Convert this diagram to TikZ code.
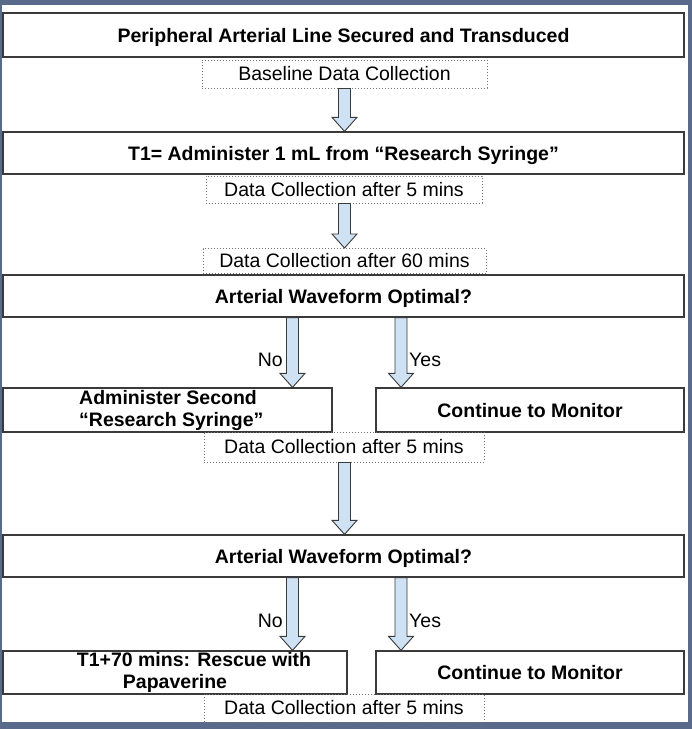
\documentclass[tikz,border=0pt]{standalone}
\usepackage{fontspec}
\setmainfont{Liberation Sans}
\usetikzlibrary{calc}
\definecolor{framecol}{HTML}{5A6A8B}
\definecolor{arrowfill}{HTML}{CFE2F3}
\definecolor{boxline}{HTML}{3A3A3A}
\tikzset{
  solidbox/.style={draw=boxline, line width=1.3pt, fill=white, inner sep=0pt, text height=16pt, text depth=2pt, font=\fontsize{19.5}{22}\selectfont\bfseries},
  dotbox/.style={draw=black!55, line width=1pt, dash pattern=on 1pt off 2pt, inner sep=0pt, font=\fontsize{19.5}{22}\selectfont},
  lbl/.style={font=\fontsize{19.5}{22}\selectfont, inner sep=0pt},
  btxt/.style={font=\fontsize{19.5}{22}\selectfont\bfseries, inner sep=0pt},
  fat/.style={draw=boxline, line width=0.9pt, fill=arrowfill, line join=miter,
    to path={let \p1=(\tikztostart), \p2=(\tikztotarget) in
      (\x1-6pt,\y1) -- (\x1-6pt,\y2+14pt) -- (\x1-12.5pt,\y2+14pt) -- (\x1,\y2)
      -- (\x1+12.5pt,\y2+14pt) -- (\x1+6pt,\y2+14pt) -- (\x1+6pt,\y1) -- cycle}}
}
\begin{document}
\begin{tikzpicture}[x=1pt,y=-1pt]
\useasboundingbox (0,0) rectangle (692,729);
\fill[framecol] (0,0) rectangle (692,729);
\fill[white] (2,5) rectangle (688,722);

% solid boxes
\node[solidbox, minimum width=681pt, minimum height=44pt] (b1) at (343.5,35) {Peripheral Arterial Line Secured and Transduced};
\node[solidbox, minimum width=681pt, minimum height=42pt] (b2) at (343.5,153) {T1= Administer 1 mL from “Research Syringe”};
\node[solidbox, minimum width=681pt, minimum height=42pt] (b3) at (343.5,296) {Arterial Waveform Optimal?};
\node[solidbox, minimum width=329pt, minimum height=44pt] (b4l) at (167.5,410) {};
\node[btxt, align=left, anchor=west] (t4l) at (79,410) {Administer Second\\“Research Syringe”};
\node[solidbox, minimum width=308pt, minimum height=44pt] (b4r) at (530,410) {Continue to Monitor};
\node[solidbox, minimum width=681pt, minimum height=42pt] (b5) at (343.5,556) {Arterial Waveform Optimal?};
\node[solidbox, minimum width=344pt, minimum height=43pt] (b6l) at (175,672.5) {};
\node[btxt, align=center] (t6l) at (194,672.5) {T1+70 mins: Rescue with\\Papaverine\hspace*{38pt}};
\node[solidbox, minimum width=308pt, minimum height=43pt] (b6r) at (530,672.5) {Continue to Monitor};

% dotted boxes
\node[dotbox, minimum width=285pt, minimum height=28pt] (d1) at (344.5,74) {Baseline Data Collection};
\node[dotbox, minimum width=276pt, minimum height=27pt] (d2) at (344,189.5) {Data Collection after 5 mins};
\node[dotbox, minimum width=283pt, minimum height=25pt] (d3) at (344.5,261) {Data Collection after 60 mins};
\node[dotbox, minimum width=280pt, minimum height=30pt] (d4) at (344,447) {Data Collection after 5 mins};
\node[dotbox, minimum width=280pt, minimum height=28pt] (d5) at (344,708) {Data Collection after 5 mins};

% arrow columns
\coordinate (mx) at (344.5,0);
\coordinate (nx) at (292.5,0);
\coordinate (yx) at (401,0);

\path[fat] (d1.south -| mx) to (b2.north -| mx);
\path[fat] (d2.south -| mx) to (d3.north -| mx);
\path[fat] (b3.south -| nx) to (b4l.north -| nx);
\path[fat] (b3.south -| yx) to (b4r.north -| yx);
\path[fat] (d4.south -| mx) to (b5.north -| mx);
\path[fat] (b5.south -| nx) to (b6l.north -| nx);
\path[fat] (b5.south -| yx) to (b6r.north -| yx);

\node[lbl, anchor=east] (no1) at (283,360) {No};
\node[lbl, anchor=west] (yes1) at (409,360) {Yes};
\node[lbl, anchor=east] (no2) at (283,621) {No};
\node[lbl, anchor=west] (yes2) at (409,621) {Yes};
\end{tikzpicture}
\end{document}
